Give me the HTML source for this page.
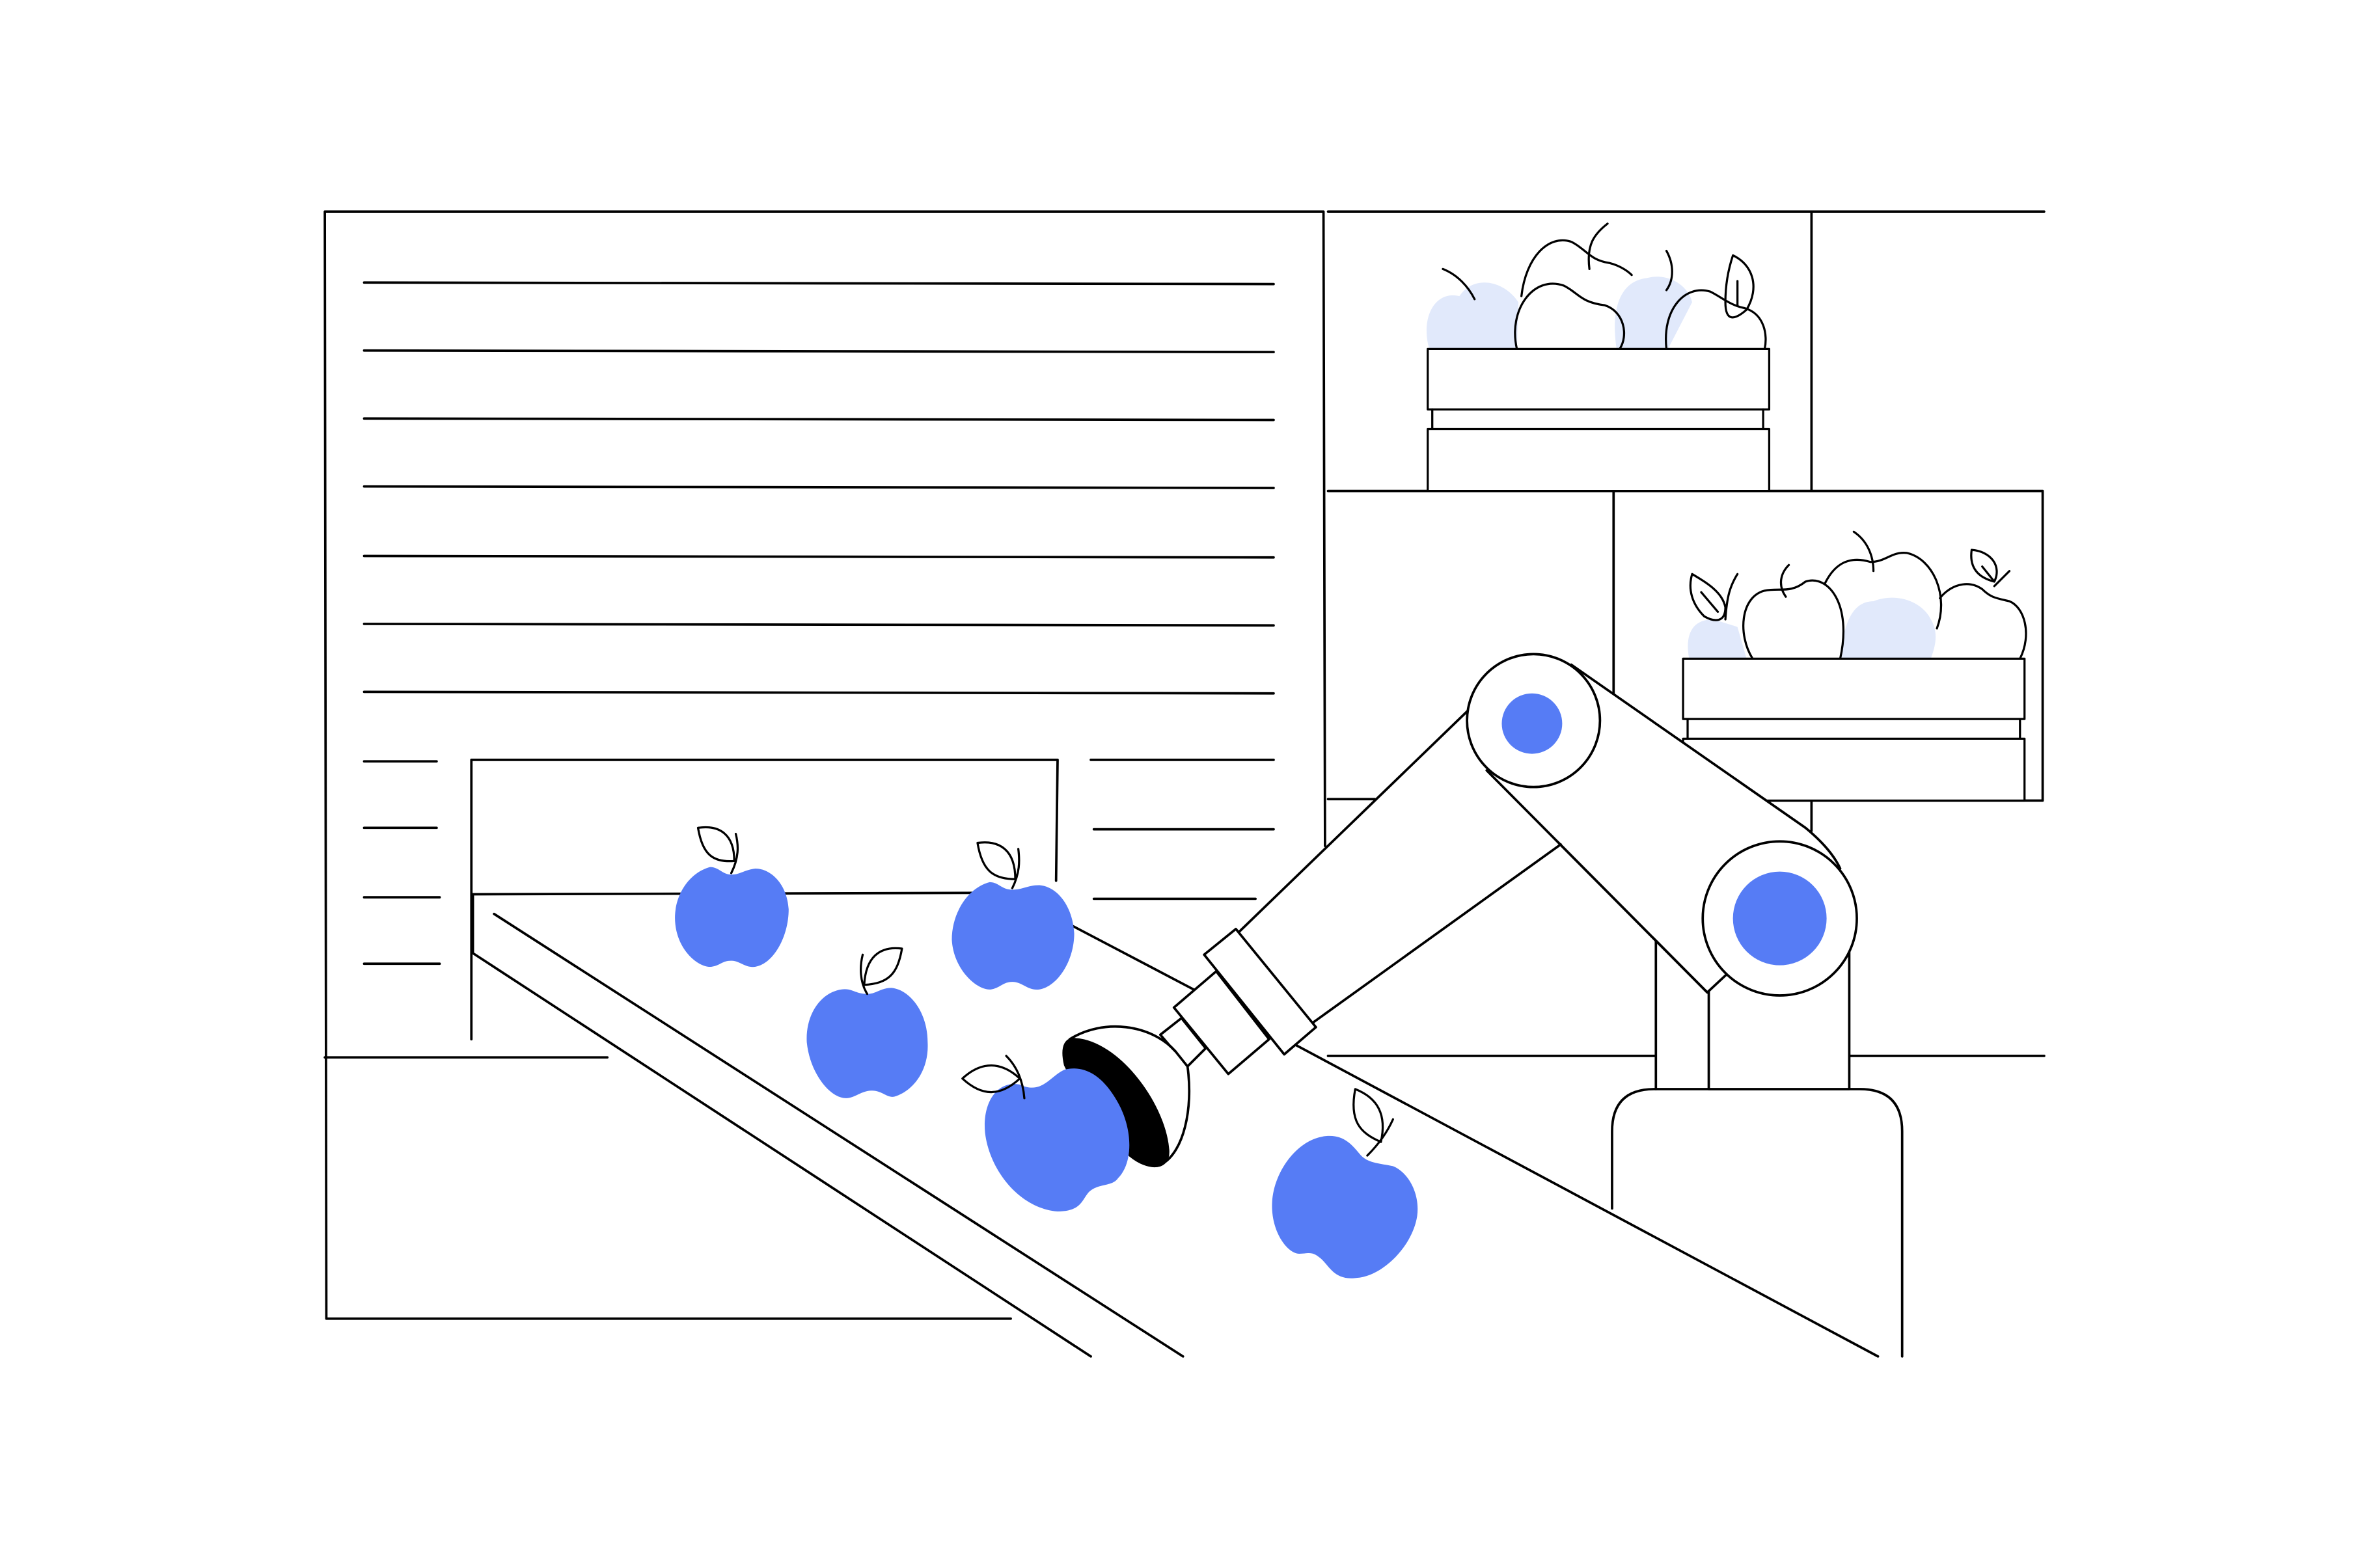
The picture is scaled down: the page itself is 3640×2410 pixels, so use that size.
<!DOCTYPE html>
<html><head><meta charset="utf-8"><style>html,body{margin:0;padding:0;background:#fff}svg{display:block}</style></head>
<body>
<svg width="3640" height="2410" viewBox="0 0 1568 1038" xmlns="http://www.w3.org/2000/svg">
<g fill="none" stroke="#000" stroke-width="1.6" stroke-linecap="round" stroke-linejoin="round">
<path d="M215,140 L876,140 L877,560 M215,140 L216,873 L669,873"/>
<path d="M241,187 L843,188 M241,232 L843,233 M241,277 L843,278 M241,322 L843,323 M241,368 L843,369 M241,413 L843,414 M241,458 L843,459"/>
<path d="M241,504 L289,504 M241,548 L289,548 M241,594 L291,594 M241,638 L291,638 M722,503 L843,503 M724,549 L843,549 M724,595 L831,595"/>
<path d="M312,688 L312,503 L700,503 L699,583 M313,592 L680,591 M313,592 L313,631"/>
<path d="M215,700 L402,700"/>
<path d="M327,605 L783,898 M313,631 L722,898 M710,613 L790,655 M858,692 L1243,898"/>
<path d="M879,140 L1353,140 M1199,140 L1199,325 M879,325 L1352,325 L1352,530 L1170,530 M1068,325 L1068,460 M879,529 L910,529 M1199,530 L1199,550 M879,699 L1095,699 M1224,699 L1353,699"/>
</g>
<g fill="#e1e9fb">
<path d="M946,231 C940,210 950,192 966,196 C975,182 995,185 1005,200 L1004,231 Z"/>
<path d="M1070,231 C1066,205 1072,186 1090,184 C1105,180 1118,190 1120,200 L1104,231 Z"/>
<path d="M1118,436 C1115,420 1120,410 1134,410 L1150,415 L1156,436 Z"/>
<path d="M1218,436 C1220,415 1225,398 1240,398 C1255,392 1272,398 1278,410 C1284,420 1280,430 1278,436 Z"/>
</g>
<g fill="none" stroke="#000" stroke-width="1.4" stroke-linecap="round" stroke-linejoin="round">
<path d="M1004,231 C998,205 1015,182 1035,189 C1045,194 1046,200 1062,202 C1075,206 1078,222 1072,231"/>
<path d="M1007,196 C1010,170 1025,155 1040,160 C1050,165 1052,172 1065,174 C1073,176 1078,180 1080,182"/>
<path d="M1103,231 C1100,205 1115,188 1132,193 C1140,197 1145,202 1155,204 C1168,208 1170,222 1168,231"/>
<path d="M1052,178 C1050,162 1055,155 1064,148 M1103,166 C1108,175 1108,185 1103,192 M955,178 C965,182 972,190 976,198"/>
<path d="M1147,169 C1160,175 1165,190 1156,205 C1148,212 1142,213 1142,200 C1142,188 1144,178 1147,169 Z M1150,186 L1150,202"/>
<path d="M1160,436 C1150,420 1152,395 1168,391 C1178,389 1185,393 1195,385 C1210,380 1226,400 1218,436"/>
<path d="M1208,386 C1215,372 1225,368 1238,372 C1248,372 1252,365 1262,366 C1280,370 1290,395 1282,416"/>
<path d="M1284,396 C1290,388 1302,383 1312,390 C1318,396 1322,396 1330,398 C1340,402 1345,420 1337,436"/>
<path d="M1227,352 C1236,358 1240,368 1240,378 M1184,374 C1178,380 1177,388 1182,395 M1320,388 L1330,378"/>
<path d="M1120,380 C1130,386 1140,392 1142,402 C1142,412 1135,412 1128,408 C1120,400 1117,390 1120,380 Z M1126,392 L1137,405 M1142,410 C1143,395 1145,388 1150,380"/>
<path d="M1305,364 C1318,365 1325,375 1320,385 C1312,383 1303,378 1305,364 Z M1312,375 L1320,385"/>
<rect x="945" y="231" width="226" height="40" fill="#fff"/>
<path d="M948,271 L948,284 M1167,271 L1167,284"/>
<rect x="945" y="284" width="226" height="41" fill="#fff"/>
<rect x="1114" y="436" width="226" height="40" fill="#fff"/>
<path d="M1117,476 L1117,489 M1337,476 L1337,489"/>
<rect x="1114" y="489" width="226" height="41" fill="#fff"/>
</g>
<g stroke="#000" stroke-width="1.6" stroke-linejoin="round" stroke-linecap="round">
<path d="M1067,800 L1067,749 Q1067,721 1095,721 L1231,721 Q1259,721 1259,749 L1259,898" fill="#fff"/>
<rect x="1131" y="615" width="93" height="106" fill="#fff"/>
<path d="M1096,721 L1096,622" fill="none"/>
<path d="M1040,440 L1195,548 Q1212,562 1218,575 L1130,657 L984,510 Z" fill="#fff"/>
<path d="M972,470 L820,617 L869,677 L1033,559 Z" fill="#fff" stroke="none"/>
<path d="M972,470 L820,617 M869,677 L1033,559 M984,510 L1130,657" fill="none"/>
<circle cx="1015" cy="477" r="44" fill="#fff"/>
<circle cx="1014" cy="479" r="20" fill="#567cf5" stroke="none"/>
<circle cx="1178" cy="608" r="51" fill="#fff"/>
<circle cx="1178" cy="608" r="31" fill="#567cf5" stroke="none"/>
<path d="M768,685 L782,674 L798,694 L786,706 Z" fill="#fff"/>
<path d="M708,688 C730,674 762,678 778,696 L786,706 C790,735 783,762 770,770 L720,720 Z" fill="#fff"/>
<path d="M770,688 L778,696" fill="none"/>
<path d="M712,688 C740,690 770,730 773,760 C775,775 760,775 748,765 C730,745 712,720 705,705 C702,692 706,687 712,688 Z" fill="#000"/>
<polygon points="777,667 805,643 840,688 813,711" fill="#fff"/>
<polygon points="797,632 818,615 871,680 850,698" fill="#fff"/>
</g>
<g fill="#567cf5">
<path d="M470,574 C455,578 445,595 447,612 C449,630 463,641 471,640 C477,639 478,636 484,636 C490,636 493,641 500,640 C512,638 522,620 522,602 C521,585 510,575 500,575 C492,576 490,579 484,579 C478,579 476,574 470,574 Z"/>
<path d="M655,584 C640,588 630,605 630,622 C631,642 647,656 656,655 C662,654 664,650 670,650 C677,650 680,656 688,655 C700,653 711,636 711,618 C710,600 700,587 688,586 C680,586 677,589 670,589 C663,589 661,584 655,584 Z"/>
<path d="M557,655 C543,657 533,672 534,690 C536,710 549,727 560,727 C566,727 570,722 577,722 C584,722 587,727 592,726 C605,722 615,708 614,690 C614,670 602,655 590,654 C583,654 580,658 574,658 C566,658 564,654 557,655 Z"/>
<path d="M675,718 C660,715 650,730 652,750 C655,775 675,800 700,802 C715,802 716,795 720,790 C726,783 736,786 740,780 C750,770 750,748 740,730 C730,712 718,705 705,708 C695,712 690,725 675,718 Z"/>
<path d="M880,752 C860,752 843,775 842,796 C841,815 852,830 860,830 C866,830 868,828 874,833 C880,838 883,848 898,846 C915,845 935,825 938,805 C940,790 932,776 922,772 C912,770 905,770 900,764 C895,758 890,752 880,752 Z"/>
</g>
<g fill="none" stroke="#000" stroke-width="1.4" stroke-linecap="round" stroke-linejoin="round">
<path d="M462,548 C476,546 486,552 486,570 C472,571 465,566 462,548 Z M484,578 C489,568 489,560 487,552"/>
<path d="M647,558 C662,556 672,563 672,582 C657,582 650,576 647,558 Z M670,588 C675,578 675,570 674,562"/>
<path d="M597,628 C582,626 573,634 572,652 C588,651 594,645 597,628 Z M574,658 C569,650 569,640 571,632"/>
<path d="M637,714 C650,702 663,703 675,714 C662,726 650,726 637,714 Z M678,727 C677,715 673,706 666,699"/>
<path d="M897,721 C912,727 918,738 914,756 C900,750 893,742 897,721 Z M905,765 C912,758 918,750 922,741"/>
</g>
</svg>
</body></html>
